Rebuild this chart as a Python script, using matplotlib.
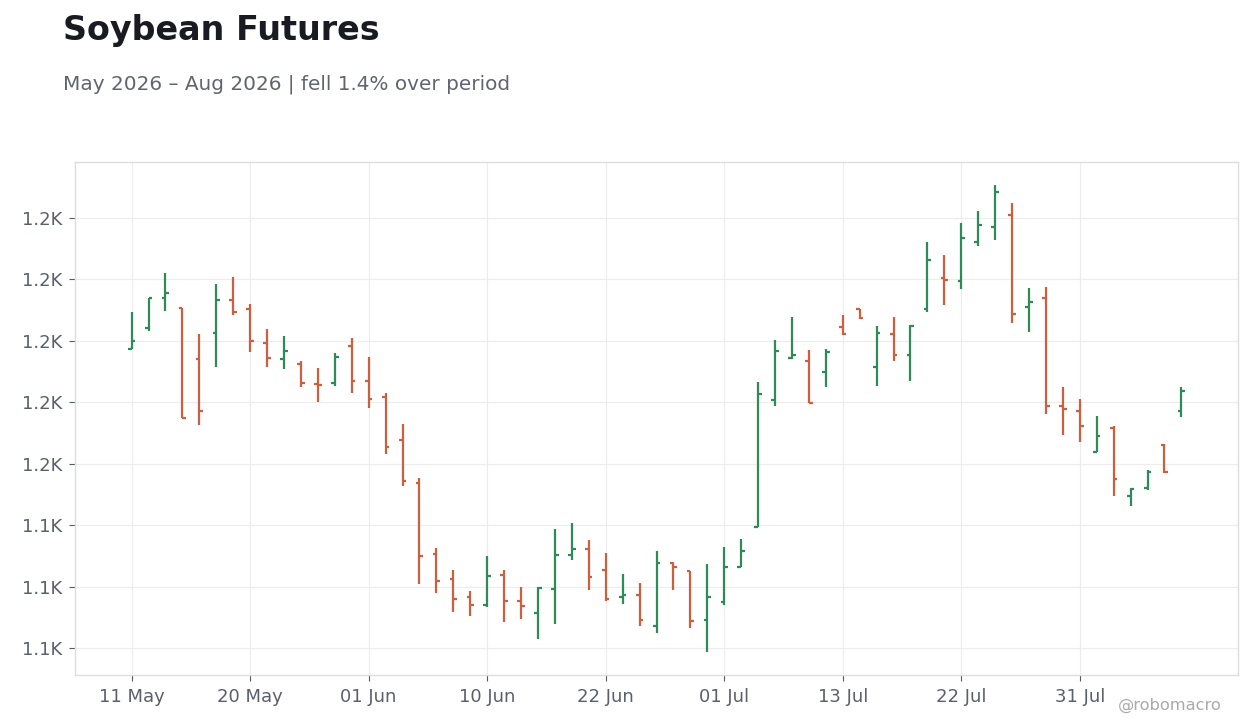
import matplotlib
matplotlib.use('Agg')
import matplotlib.pyplot as plt
from matplotlib.ticker import MultipleLocator, FuncFormatter
import numpy as np

dates = ['2026-05-11', '2026-05-12', '2026-05-13', '2026-05-14', '2026-05-15',
         '2026-05-18', '2026-05-19', '2026-05-20', '2026-05-21', '2026-05-22',
         '2026-05-26', '2026-05-27', '2026-05-28', '2026-05-29',
         '2026-06-01', '2026-06-02', '2026-06-03', '2026-06-04', '2026-06-05',
         '2026-06-08', '2026-06-09', '2026-06-10', '2026-06-11', '2026-06-12',
         '2026-06-15', '2026-06-16', '2026-06-17', '2026-06-18', '2026-06-22',
         '2026-06-23', '2026-06-24', '2026-06-25', '2026-06-26', '2026-06-29',
         '2026-06-30', '2026-07-01', '2026-07-02', '2026-07-06', '2026-07-07',
         '2026-07-08', '2026-07-09', '2026-07-10', '2026-07-13', '2026-07-14',
         '2026-07-15', '2026-07-16', '2026-07-17', '2026-07-20', '2026-07-21',
         '2026-07-22', '2026-07-23', '2026-07-24', '2026-07-27', '2026-07-28',
         '2026-07-29', '2026-07-30', '2026-07-31', '2026-08-03', '2026-08-04',
         '2026-08-05', '2026-08-06', '2026-08-07', '2026-08-10']

opens = [1197.1, 1204.0, 1213.8, 1210.5, 1193.9, 1202.4, 1213.1, 1210.2, 1199.1, 1193.9,
         1192.4, 1185.9, 1186.2, 1198.2, 1186.9, 1181.7, 1167.7, 1153.7, 1130.6, 1122.5,
         1116.6, 1114.0, 1123.7, 1115.3, 1111.3, 1119.1, 1130.2, 1132.2, 1125.4, 1116.5,
         1117.3, 1107.1, 1127.5, 1124.9, 1109.2, 1115.1, 1126.5, 1139.5, 1180.6, 1194.2,
         1193.2, 1189.9, 1204.4, 1210.2, 1191.5, 1202.1, 1195.2, 1210.2, 1220.3, 1219.5,
         1232.2, 1237.0, 1240.9, 1210.8, 1214.0, 1178.6, 1177.0, 1163.9, 1171.4, 1149.3,
         1151.9, 1165.9, 1177.0]
highs = [1209.3, 1213.8, 1222.0, 1210.5, 1202.0, 1218.5, 1220.7, 1212.0, 1203.8, 1201.6,
         1193.5, 1191.2, 1196.1, 1200.7, 1194.5, 1182.8, 1172.7, 1155.4, 1132.4, 1125.5,
         1118.7, 1129.8, 1125.3, 1120.0, 1120.0, 1138.6, 1140.6, 1135.1, 1130.8, 1124.0,
         1121.1, 1131.5, 1127.9, 1125.0, 1127.4, 1132.9, 1135.5, 1186.6, 1200.2, 1207.8,
         1196.9, 1197.3, 1208.2, 1210.3, 1204.8, 1207.8, 1205.1, 1231.9, 1227.7, 1238.3,
         1242.2, 1250.5, 1244.9, 1217.2, 1217.4, 1185.0, 1181.1, 1175.5, 1172.3, 1152.1,
         1157.8, 1166.2, 1185.0]
lows = [1197.1, 1203.0, 1209.7, 1174.7, 1172.4, 1191.4, 1208.2, 1196.2, 1191.3, 1190.7,
        1184.9, 1180.0, 1185.2, 1183.0, 1178.1, 1163.1, 1152.7, 1120.8, 1117.9, 1111.7,
        1110.4, 1113.4, 1108.5, 1109.5, 1103.0, 1107.8, 1128.7, 1118.9, 1115.3, 1114.3,
        1107.2, 1105.0, 1119.0, 1106.6, 1098.8, 1114.1, 1126.4, 1139.4, 1178.6, 1194.1,
        1179.7, 1184.8, 1201.8, 1207.1, 1185.1, 1193.3, 1186.9, 1209.2, 1211.5, 1216.9,
        1230.9, 1232.8, 1205.8, 1202.7, 1176.1, 1169.2, 1166.9, 1163.8, 1149.3, 1146.3,
        1151.4, 1157.0, 1175.0]
closes = [1199.7, 1213.8, 1215.4, 1174.7, 1177.0, 1213.1, 1209.4, 1199.7, 1194.2, 1196.5,
          1186.2, 1185.6, 1194.7, 1186.9, 1181.0, 1165.4, 1154.3, 1129.9, 1121.8, 1116.0,
          1114.0, 1123.3, 1115.2, 1113.6, 1119.4, 1130.2, 1132.2, 1123.0, 1115.9, 1117.3,
          1109.0, 1127.7, 1126.5, 1108.9, 1116.6, 1126.5, 1131.6, 1182.5, 1196.7, 1195.2,
          1179.8, 1196.4, 1202.1, 1207.2, 1202.4, 1195.2, 1204.7, 1226.2, 1219.6, 1233.5,
          1237.7, 1248.3, 1208.7, 1212.4, 1178.6, 1177.6, 1172.1, 1168.8, 1155.1, 1151.7,
          1157.4, 1157.2, 1183.5]

UP = '#2e8b57'
DOWN = '#cc5f3f'

d = np.array(dates, dtype='datetime64[D]')
x = np.arange(len(d))
o = np.array(opens)
h = np.array(highs)
l = np.array(lows)
c = np.array(closes)
cols = [UP if cc >= oo else DOWN for oo, cc in zip(o, c)]

fig = plt.figure(figsize=(12.6, 7.28), dpi=100)
ax = fig.add_axes([75 / 1260, 1 - 675 / 728, (1238 - 75) / 1260, (675 - 162) / 728])

tw = 0.22
ax.vlines(x, l, h, colors=cols, linewidth=1.6, zorder=3)
ax.hlines(o, x - tw, x, colors=cols, linewidth=1.6, zorder=3)
ax.hlines(c, x, x + tw, colors=cols, linewidth=1.6, zorder=3)

ax.margins(x=0.05, y=0.05)
ax.yaxis.set_major_locator(MultipleLocator(20))
ax.yaxis.set_major_formatter(FuncFormatter(lambda v, p: f'{v / 1000:.1f}K'))

ticks = x[::7]
labels = [d[i].astype(object).strftime('%d %b') for i in ticks]
ax.set_xticks(ticks)
ax.set_xticklabels(labels)

ax.set_axisbelow(True)
ax.grid(True, color='#ececec', linewidth=0.8)
for s in ax.spines.values():
    s.set_color('#dddddd')
    s.set_linewidth(1.0)
ax.tick_params(length=4, width=0.8, color='#555a66', labelcolor='#5a5f6b',
               labelsize=13, pad=5)

fig.text(63 / 1260, 1 - 14 / 728, 'Soybean Futures', fontsize=24, fontweight='bold',
         color='#1a1a22', va='top', ha='left')
fig.text(63 / 1260, 1 - 74 / 728, 'May 2026 \u2013 Aug 2026 | fell 1.4% over period',
         fontsize=14.4, color='#5f6470', va='top', ha='left')
fig.text(1222 / 1260, 1 - 705 / 728, '@robomacro', fontsize=11.7, color='#aaaaaa',
         ha='right', va='center')

fig.savefig('out.png', dpi=100)
